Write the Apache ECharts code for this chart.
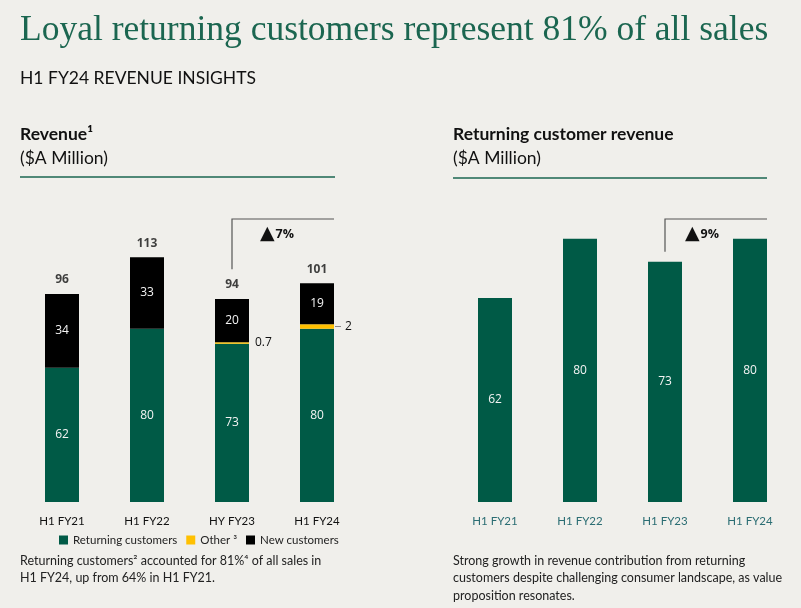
<!DOCTYPE html>
<html>
<head>
<meta charset="utf-8">
<script src="https://cdn.jsdelivr.net/npm/echarts@6/dist/echarts.min.js"></script>
<style>
  html, body { margin: 0; padding: 0; background: #f0efeb; }
  #main { width: 801px; height: 608px; }
</style>
</head>
<body>
<div id="main"></div>
<script>
// data
var categoriesLeft = ['H1 FY21', 'H1 FY22', 'HY FY23', 'H1 FY24'];
var categoriesRight = ['H1 FY21', 'H1 FY22', 'H1 FY23', 'H1 FY24'];
var returning = [62, 80, 73, 80];
var other = [0, 0, 0.7, 2];
var newCustomers = [34, 33, 20, 19];
var totals = [96, 113, 94, 101];
var returningRevenue = [62, 80, 73, 80];
var growthLeft = '7%';
var growthRight = '9%';

var green = '#005a46';
var yellow = '#ffc000';
var sans = 'Lato';

var chart = echarts.init(document.getElementById('main'));

function txt(x, y, s, size, weight, color, family) {
  return {
    type: 'text', x: x, y: y,
    style: {
      text: s, fontSize: size, fontWeight: weight || 'normal',
      fill: color || '#111', fontFamily: family || sans,
      textVerticalAlign: 'middle'
    }
  };
}

var staticGraphics = [
  txt(20, 31, 'Loyal returning customers represent 81% of all sales', 35.5, 'normal', '#1b6650', 'Liberation Serif'),
  txt(20, 78, 'H1 FY24 REVENUE INSIGHTS', 17.5),
  txt(20, 134, 'Revenue¹', 17.5, 'bold'),
  txt(20, 158, '($A Million)', 17.5),
  { type: 'line', shape: { x1: 20, y1: 177, x2: 335, y2: 177 }, style: { stroke: '#1b6650', lineWidth: 1.5 } },
  txt(453, 134, 'Returning customer revenue', 17.5, 'bold'),
  txt(453, 158, '($A Million)', 17.5),
  { type: 'line', shape: { x1: 453, y1: 178, x2: 767, y2: 178 }, style: { stroke: '#1b6650', lineWidth: 1.5 } },
  txt(20, 561, 'Returning customers² accounted for 81%⁴ of all sales in', 12.5, 'normal', '#222'),
  txt(20, 578, 'H1 FY24, up from 64% in H1 FY21.', 12.5, 'normal', '#222'),
  txt(453, 561, 'Strong growth in revenue contribution from returning', 12.5, 'normal', '#222'),
  txt(453, 578, 'customers despite challenging consumer landscape, as value', 12.5, 'normal', '#222'),
  txt(453, 596, 'proposition resonates.', 12.5, 'normal', '#222')
];

var insideLabel = { show: true, position: 'inside', color: '#f4f4f4', fontSize: 12, fontFamily: 'Open Sans' };

var option = {
  backgroundColor: '#f0efeb',
  animation: false,
  legend: {
    data: ['Returning customers', 'Other ³', 'New customers'],
    left: 54, top: 529,
    icon: 'rect', itemWidth: 9, itemHeight: 9, itemGap: 9,
    textStyle: { fontFamily: sans, fontSize: 11.5, color: '#222' },
    selectedMode: false
  },
  grid: [
    { left: 19.5, width: 340, top: 242, height: 260 },
    { left: 452.5, width: 340, top: 173, height: 329 }
  ],
  xAxis: [
    {
      type: 'category', gridIndex: 0, data: categoriesLeft,
      axisLine: { show: false }, axisTick: { show: false },
      axisLabel: { margin: 13, color: '#111', fontFamily: sans, fontSize: 11.5 }
    },
    {
      type: 'category', gridIndex: 1, data: categoriesRight,
      axisLine: { show: false }, axisTick: { show: false },
      axisLabel: { margin: 13, color: '#2b6d73', fontFamily: sans, fontSize: 11.5 }
    }
  ],
  yAxis: [
    { type: 'value', gridIndex: 0, min: 0, max: 120, show: false },
    { type: 'value', gridIndex: 1, min: 0, max: 100, show: false }
  ],
  series: [
    {
      name: 'Returning customers', type: 'bar', stack: 'rev', barWidth: 34,
      xAxisIndex: 0, yAxisIndex: 0, data: returning,
      itemStyle: { color: green }, label: insideLabel
    },
    {
      name: 'Other ³', type: 'bar', stack: 'rev', barWidth: 34,
      xAxisIndex: 0, yAxisIndex: 0,
      data: other.map(function (v, i) {
        return { value: v, label: { show: v > 0, distance: i === 3 ? 11 : 6 } };
      }),
      itemStyle: { color: yellow },
      label: { position: 'right', color: '#111', fontSize: 12, fontFamily: 'Open Sans' }
    },
    {
      name: 'New customers', type: 'bar', stack: 'rev', barWidth: 34,
      xAxisIndex: 0, yAxisIndex: 0, data: newCustomers,
      itemStyle: { color: '#000' }, label: insideLabel
    },
    {
      name: 'Total', type: 'scatter', xAxisIndex: 0, yAxisIndex: 0,
      data: totals, symbolSize: 0, silent: true,
      label: { show: true, position: 'top', distance: 8, color: '#111', fontSize: 12, fontWeight: 'bold', fontFamily: 'Open Sans' }
    },
    {
      name: 'Returning customer revenue', type: 'bar', barWidth: 34,
      xAxisIndex: 1, yAxisIndex: 1, data: returningRevenue,
      itemStyle: { color: green }, label: insideLabel
    }
  ],
  graphic: staticGraphics
};

chart.setOption(option);

// brackets and growth labels, placed from the data positions
function bracket(axisIdx, from, to, topY, gap, pct, textOffset) {
  var a = chart.convertToPixel({ xAxisIndex: axisIdx, yAxisIndex: axisIdx }, [from.i, from.v]);
  var b = chart.convertToPixel({ xAxisIndex: axisIdx, yAxisIndex: axisIdx }, [to.i, to.v]);
  var xr = b[0] + 17;
  return [
    { type: 'polyline', shape: { points: [[a[0], a[1] - gap], [a[0], topY], [xr, topY]] },
      style: { stroke: '#555', lineWidth: 1.2, fill: null } },
    { type: 'text', x: a[0] + textOffset, y: topY + 15,
      style: {
        text: '{t|▲}{p|' + pct + '}', textVerticalAlign: 'middle',
        rich: {
          t: { fontFamily: 'DejaVu Sans', fontSize: 19, fill: '#111', padding: [0, 1, 0, 0] },
          p: { fontFamily: 'Open Sans', fontSize: 12.5, fontWeight: 'bold', fill: '#111' }
        }
      } }
  ];
}

var extra = [];
extra = extra.concat(bracket(0, { i: 2, v: totals[2] }, { i: 3, v: totals[3] }, 219, 29, growthLeft, 28));
extra = extra.concat(bracket(1, { i: 2, v: returningRevenue[2] }, { i: 3, v: returningRevenue[3] }, 219, 10, growthRight, 20));

// short leader for the "2" label
var o = chart.convertToPixel({ xAxisIndex: 0, yAxisIndex: 0 }, [3, returning[3] + other[3] / 2]);
extra.push({ type: 'line', shape: { x1: o[0] + 18, y1: o[1], x2: o[0] + 24, y2: o[1] }, style: { stroke: '#888', lineWidth: 1 } });

chart.setOption({ graphic: staticGraphics.concat(extra) });
</script>
</body>
</html>
